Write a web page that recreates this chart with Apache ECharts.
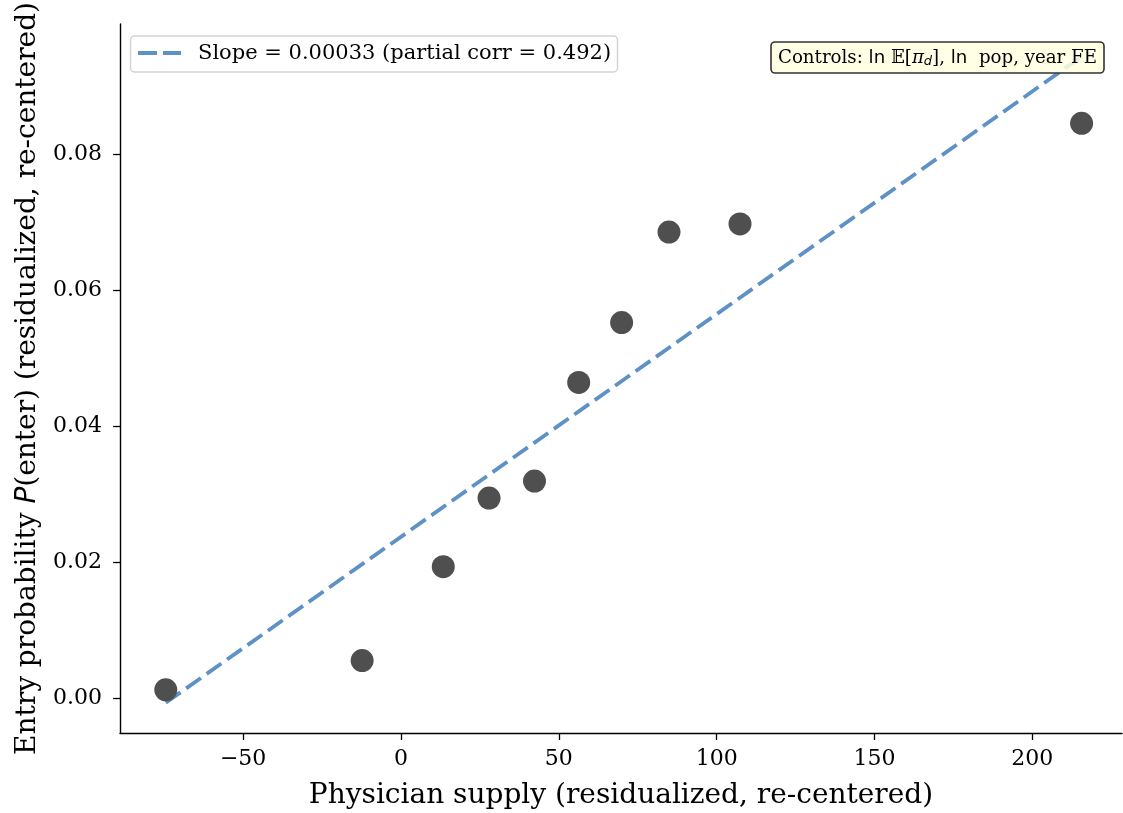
<!DOCTYPE html>
<html>
<head>
<meta charset="utf-8">
<script src="https://cdn.jsdelivr.net/npm/echarts@6/dist/echarts.min.js"></script>
<style>html,body{margin:0;padding:0;background:#fff}#c{width:1123px;height:813px}</style>
</head>
<body>
<div id="c"></div>
<script>
// Binned scatter (x = physician supply residual, y = entry probability residual)
const binX = [-74.5, -12.3, 13.4, 27.9, 42.3, 56.3, 69.9, 84.9, 107.4, 215.6];
const binY = [0.0012, 0.0055, 0.0193, 0.0294, 0.0319, 0.0464, 0.0552, 0.0685, 0.0697, 0.0845];
// Fitted line endpoints
const fitX = [-74.5, 215.6];
const fitY = [-0.0007, 0.0943];
const xTicks = [-50, 0, 50, 100, 150, 200];
const yTicks = [0.00, 0.02, 0.04, 0.06, 0.08];
const legendLabel = 'Slope = 0.00033 (partial corr = 0.492)';

const serif = '"DejaVu Serif", serif';
const sans = '"DejaVu Sans", sans-serif';
const lineColor = '#5e91c6';
const chart = echarts.init(document.getElementById('c'));
chart.setOption({
  animation: false,
  backgroundColor: '#fff',
  grid: { left: 120, right: 1, top: 24, bottom: 80, containLabel: false, outerBoundsMode: 'none' },
  xAxis: {
    type: 'value', min: -89.0, max: 228.4,
    name: 'Physician supply (residualized, re-centered)',
    nameLocation: 'middle', nameGap: 49,
    nameTextStyle: { fontFamily: serif, fontSize: 28, color: '#000' },
    axisLine: { show: true, onZero: false, lineStyle: { color: '#000', width: 1.4 } },
    axisTick: { show: true, inside: false, length: 7, customValues: xTicks, lineStyle: { color: '#000', width: 1.3 } },
    axisLabel: { customValues: xTicks, fontFamily: serif, fontSize: 22, color: '#000', margin: 15,
      formatter: v => String(v).replace('-', '\u2212') },
    splitLine: { show: false }
  },
  yAxis: {
    type: 'value', min: -0.00515, max: 0.0991,
    name: '{a|Entry probability }{b|P}{a|(enter) (residualized, re-centered)}',
    nameLocation: 'middle', nameGap: 76, nameRotate: 90,
    nameTextStyle: { rich: {
      a: { fontFamily: serif, fontSize: 28, color: '#000' },
      b: { fontFamily: sans, fontStyle: 'italic', fontSize: 28, color: '#000' }
    } },
    axisLine: { show: true, onZero: false, lineStyle: { color: '#000', width: 1.4 } },
    axisTick: { show: true, inside: false, length: 7, customValues: yTicks, lineStyle: { color: '#000', width: 1.3 } },
    axisLabel: { customValues: yTicks, fontFamily: serif, fontSize: 22, color: '#000', margin: 18,
      formatter: v => v.toFixed(2) },
    splitLine: { show: false }
  },
  series: [
    {
      name: legendLabel, type: 'line', z: 2,
      data: fitX.map((x, i) => [x, fitY[i]]),
      symbol: 'none', showSymbol: false,
      lineStyle: { color: lineColor, width: 3.8, type: [18, 7] }
    },
    {
      name: 'bins', type: 'scatter', z: 3,
      data: binX.map((x, i) => [x, binY[i]]),
      symbol: 'circle', symbolSize: 23,
      itemStyle: { color: '#4f4f4f', opacity: 1 }
    }
  ],
  graphic: [
    { type: 'rect', z: 100, shape: { x: 130.5, y: 36, width: 487, height: 36, r: 4 },
      style: { fill: 'rgba(255,255,255,0.9)', stroke: '#d3d3d3', lineWidth: 1.5 } },
    { type: 'line', z: 101, shape: { x1: 138, y1: 53, x2: 181, y2: 53 },
      style: { stroke: lineColor, lineWidth: 3.8, lineDash: [19, 6] } },
    { type: 'text', z: 101, x: 198, y: 54,
      style: { text: legendLabel, fontFamily: serif, fontSize: 21, fill: '#000', verticalAlign: 'middle' } },
    { type: 'rect', z: 100, shape: { x: 771, y: 42, width: 333, height: 31, r: 4 },
      style: { fill: 'rgba(255,255,224,0.85)', stroke: '#333', lineWidth: 1.6 } },
    {
      type: 'text', z: 101, x: 778, y: 58,
      style: {
        text: '{s|Controls: }{n|ln }{s|\uD835\uDD3C[}{i|\u03C0}{sub|d}{s|], }{n|ln }{s| pop, year FE}',
        verticalAlign: 'middle',
        rich: {
          s: { fontFamily: serif, fontSize: 18.2, fill: '#000' },
          n: { fontFamily: sans, fontSize: 18.2, fill: '#000' },
          i: { fontFamily: serif, fontStyle: 'italic', fontSize: 18.2, fill: '#000' },
          sub: { fontFamily: sans, fontStyle: 'italic', fontSize: 13, fill: '#000', padding: [8, 0, 0, 0] }
        }
      }
    }
  ]
});
</script>
</body>
</html>
